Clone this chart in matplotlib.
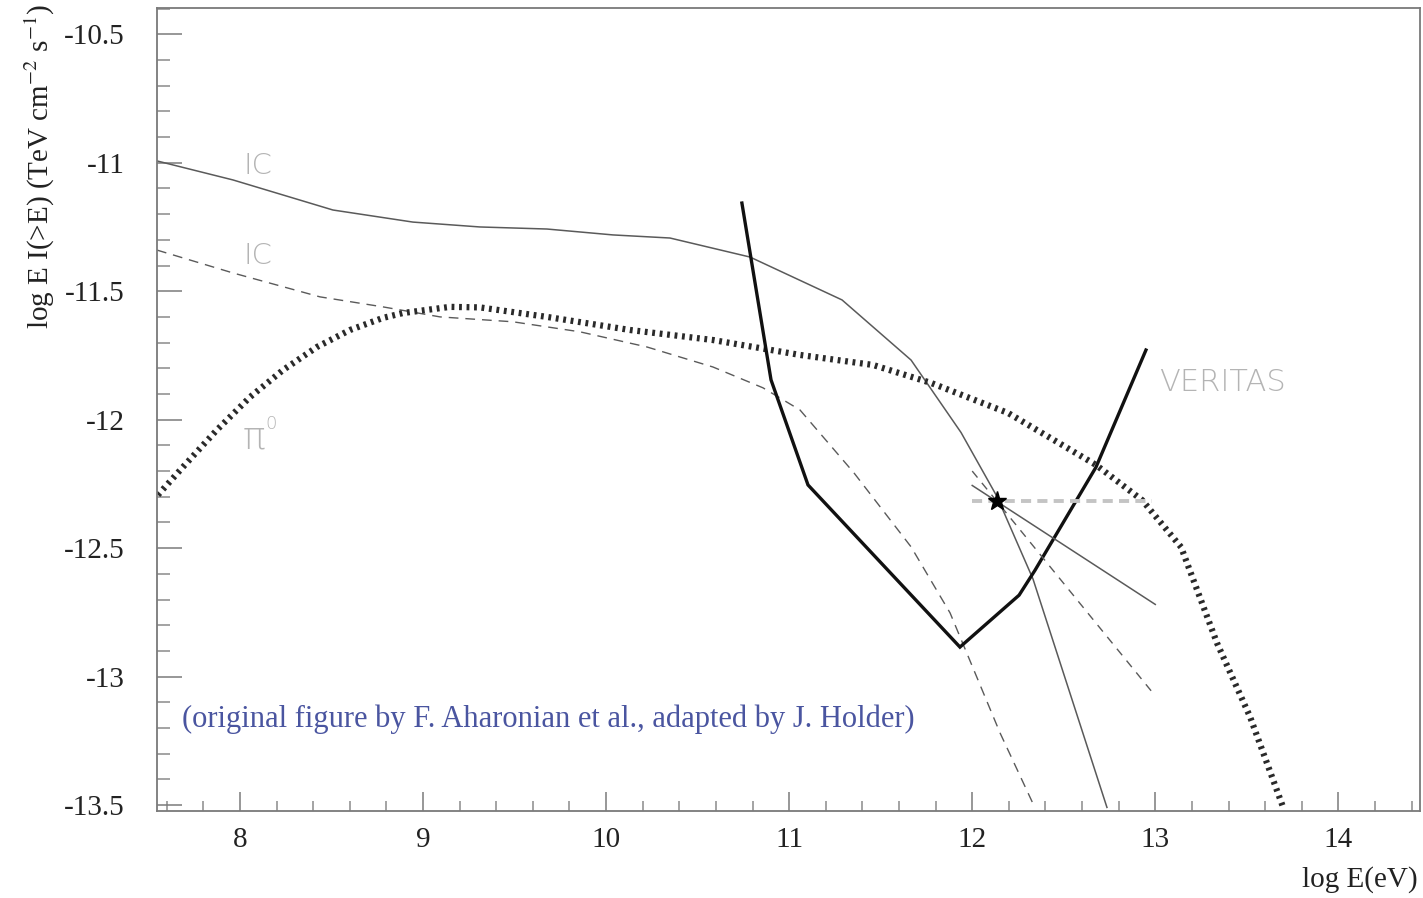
import matplotlib
matplotlib.use("Agg")
import matplotlib.pyplot as plt
from matplotlib.ticker import MultipleLocator, FixedLocator

# ---- data (log E [eV], log E I(>E)) ----
ic_solid_x = [7.547, 7.962, 8.508, 8.945, 9.311, 9.677, 10.038, 10.349, 10.786,
              11.289, 11.666, 11.939, 12.136, 12.240, 12.332, 12.736]
ic_solid_y = [-10.993, -11.067, -11.184, -11.231, -11.250, -11.258, -11.281, -11.293, -11.367,
              -11.534, -11.768, -12.050, -12.300, -12.470, -12.620, -13.509]

ic_dash_x = [7.547, 7.962, 8.437, 8.781, 9.093, 9.491, 9.857, 10.223, 10.584, 10.857,
             11.059, 11.354, 11.666, 11.879, 12.152, 12.343]
ic_dash_y = [-11.340, -11.429, -11.522, -11.561, -11.600, -11.619, -11.658, -11.717, -11.795, -11.876,
             -11.962, -12.207, -12.495, -12.752, -13.219, -13.511]

pi0_x = [7.552, 7.689, 7.874, 8.055, 8.235, 8.421, 8.601, 8.781, 8.890, 9.147, 9.311,
         9.677, 10.131, 10.584, 11.059, 11.458, 11.775, 12.196, 12.676, 12.928, 13.141,
         13.337, 13.518, 13.698]
pi0_y = [-12.293, -12.184, -12.040, -11.912, -11.807, -11.717, -11.651, -11.604, -11.585, -11.561, -11.563,
         -11.600, -11.651, -11.690, -11.748, -11.787, -11.857, -11.974, -12.176, -12.313, -12.496,
         -12.869, -13.157, -13.508]

veritas_x = [10.742, 10.901, 11.103, 11.933, 12.256, 12.343, 12.676, 12.949]
veritas_y = [-11.157, -11.845, -12.254, -12.885, -12.683, -12.586, -12.185, -11.729]

fit_solid_x = [12.0, 13.0]
fit_solid_y = [-12.256, -12.719]
fit_dash_x = [12.0, 13.0]
fit_dash_y = [-12.200, -13.075]
flux_level_x = [12.0, 12.98]
flux_level_y = [-12.315, -12.315]
star_x = [12.136]
star_y = [-12.317]

xticks = [8, 9, 10, 11, 12, 13, 14]
yticks = [-10.5, -11, -11.5, -12, -12.5, -13, -13.5]
ytick_labels = ["-10.5", "-11", "-11.5", "-12", "-12.5", "-13", "-13.5"]

# ---- figure ----
W, H = 1423, 898
fig = plt.figure(figsize=(W / 100, H / 100), dpi=100)
ax = fig.add_axes([157 / W, 1 - 810.5 / H, (1420 - 157) / W, (810.5 - 8.3) / H])
ax.set_xlim(7.547, 14.446)
ax.set_ylim(-13.521, -10.399)

serif = ["Liberation Serif", "DejaVu Serif"]

ax.plot(ic_solid_x, ic_solid_y, color="#5a5a5a", lw=1.1)
ax.plot(ic_dash_x, ic_dash_y, color="#5a5a5a", lw=1.0, ls=(0, (7, 5)))
ax.plot(pi0_x, pi0_y, color="#2a2a2a", lw=4.5, ls=(0, (0.45, 0.75)), dash_capstyle="butt")
ax.plot(veritas_x, veritas_y, color="#111111", lw=2.4, solid_joinstyle="miter")
ax.plot(fit_solid_x, fit_solid_y, color="#5a5a5a", lw=1.1)
ax.plot(fit_dash_x, fit_dash_y, color="#5a5a5a", lw=1.0, ls=(0, (6, 5)))
ax.plot(flux_level_x, flux_level_y, color="#c4c4c4", lw=2.8, ls=(0, (2.6, 1.6)), dash_capstyle="butt")
ax.plot(star_x, star_y, marker="*", color="black", markersize=14, ls="none")

lab = dict(color="#b4b4b4", family=["DejaVu Sans"], fontweight="light",
           ha="center", va="center")
ax.text(8.098, -11.013, "IC", fontsize=21, **lab)
ax.text(8.098, -11.364, "IC", fontsize=21, **lab)
ax.text(8.075, -12.07, "\u03c0", fontsize=27, **lab)
ax.text(8.17, -12.015, "0", fontsize=13, **lab)
ax.text(13.365, -11.857, "VERITAS", fontsize=22, **lab)

ax.text(7.683, -13.165, "(original figure by F. Aharonian et al., adapted by J. Holder)",
        color="#4a55a0", fontsize=22, family=serif, ha="left", va="center")

# ---- axes styling ----
for side in ["top", "right", "bottom", "left"]:
    ax.spines[side].set_color("#7a7a7a")
    ax.spines[side].set_linewidth(1.3)

ax.xaxis.set_major_locator(FixedLocator(xticks))
ax.xaxis.set_minor_locator(MultipleLocator(0.2))
ax.yaxis.set_major_locator(FixedLocator(yticks))
ax.yaxis.set_minor_locator(MultipleLocator(0.1))
ax.set_yticklabels(ytick_labels)
ax.tick_params(axis="x", which="major", direction="in", length=14, width=1.1, color="#7a7a7a",
               top=False, pad=12, labelsize=21, labelcolor="#222222")
ax.tick_params(axis="x", which="minor", direction="in", length=7, width=1.1, color="#8a8a8a", top=False)
ax.tick_params(axis="y", which="major", direction="in", length=18, width=1.1, color="#7a7a7a",
               right=False, pad=23, labelsize=21, labelcolor="#222222")
ax.tick_params(axis="y", which="minor", direction="in", length=9.4, width=1.1, color="#8a8a8a", right=False)
for t in ax.get_xticklabels() + ax.get_yticklabels():
    t.set_family(serif)

plt.rcParams["mathtext.fontset"] = "stix"
fig.text(40 / W, 1 - 4 / H, r"log E I(>E) (TeV cm$^{-2}$ s$^{-1}$)", rotation=90,
         ha="center", va="top", fontsize=21, family=serif, color="#222222")
fig.text(1418 / W, 1 - 880 / H, "log E(eV)", ha="right", va="center", fontsize=21,
         family=serif, color="#222222")

fig.savefig("out.png", dpi=100)
